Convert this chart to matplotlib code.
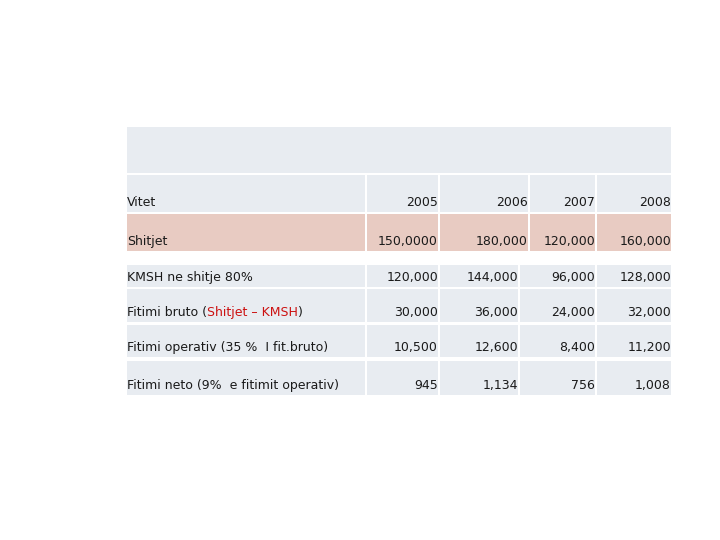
import matplotlib
matplotlib.use("Agg")
import matplotlib.pyplot as plt
from matplotlib.patches import Rectangle

years = ["2005", "2006", "2007", "2008"]
row_labels = ["Shitjet", "KMSH ne shitje 80%", "Fitimi bruto (Shitjet – KMSH)",
              "Fitimi operativ (35 %  I fit.bruto)", "Fitimi neto (9%  e fitimit operativ)"]
values = [
    ["150,0000", "180,000", "120,000", "160,000"],
    ["120,000", "144,000", "96,000", "128,000"],
    ["30,000", "36,000", "24,000", "32,000"],
    ["10,500", "12,600", "8,400", "11,200"],
    ["945", "1,134", "756", "1,008"],
]

plt.rcParams['font.family'] = ['DejaVu Sans']
fig = plt.figure(figsize=(7.2, 5.4), dpi=100)
ax = fig.add_axes([0, 0, 1, 1])
ax.set_xlim(0, 720); ax.set_ylim(540, 0); ax.axis('off')

BG = '#E8ECF1'; PINK = '#E8CBC2'; TXT = '#1a1a1a'; FS = 9.0
ax.add_patch(Rectangle((127, 127), 544, 46, color=BG, lw=0))

rows_y = [(175, 212), (214, 251), (265, 287), (289, 322), (325, 357), (361, 395)]
cols_top = [(127, 365), (367, 438), (440, 528), (530, 595), (597, 671)]
cols_low = [(127, 365), (367, 438), (440, 518), (520, 595), (597, 671)]

all_rows = [["Vitet"] + years] + [[l] + v for l, v in zip(row_labels, values)]
for i, (row, (y0, y1)) in enumerate(zip(all_rows, rows_y)):
    cols = cols_top if i < 2 else cols_low
    color = PINK if i == 1 else BG
    for j, (x0, x1) in enumerate(cols):
        ax.add_patch(Rectangle((x0, y0), x1 - x0, y1 - y0, color=color, lw=0))
        ty = y1 - 3
        if j == 0:
            if i == 3:
                fig.canvas.draw()
                r = fig.canvas.get_renderer()
                x = x0
                for part, c in [("Fitimi bruto (", TXT), ("Shitjet – KMSH", '#cc1111'), (")", TXT)]:
                    t = ax.text(x, ty, part, fontsize=FS, color=c, ha='left', va='bottom')
                    bb = t.get_window_extent(r)
                    x += bb.width
            else:
                ax.text(x0, ty, row[0], fontsize=FS, color=TXT, ha='left', va='bottom')
        else:
            ax.text(x1, ty, row[j], fontsize=FS, color=TXT, ha='right', va='bottom')

fig.savefig("out.png", dpi=100)
